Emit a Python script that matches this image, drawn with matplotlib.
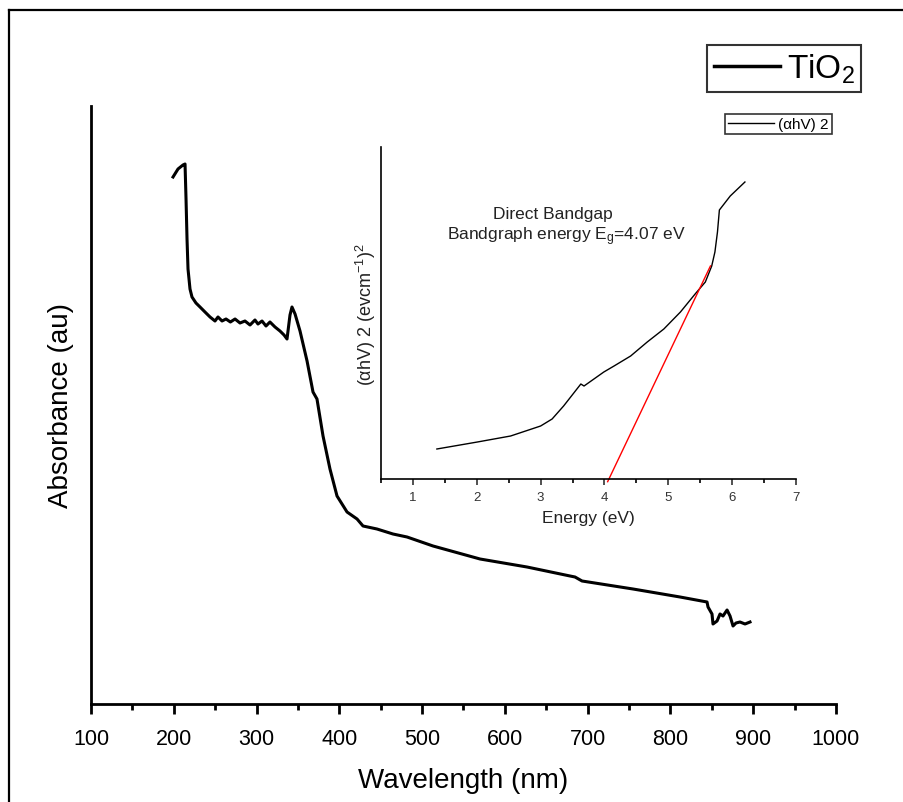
import matplotlib.pyplot as plt
from matplotlib.lines import Line2D
import numpy as np

plt.rcParams['font.family'] = ['Liberation Sans', 'DejaVu Sans']
plt.rcParams['mathtext.fontset'] = 'custom'
plt.rcParams['mathtext.rm'] = 'Liberation Sans'
plt.rcParams['mathtext.it'] = 'Liberation Sans'
plt.rcParams['mathtext.default'] = 'regular'

# main spectrum: wavelength (nm) vs absorbance (arbitrary units)
wavelength = [199.1, 205.1, 211.1, 213.6, 214.8, 216.0, 217.2, 219.6, 222.0, 226.8,
              231.7, 237.7, 243.8, 249.8, 253.4, 258.3, 263.1, 268.4, 274.0, 280.0,
              286.0, 292.1, 298.1, 301.7, 306.6, 311.4, 316.2, 322.3, 328.3, 333.2,
              336.8, 340.4, 342.8, 346.5, 352.5, 361.0, 368.2, 373.0, 380.3, 388.7,
              397.2, 409.3, 421.4, 428.6, 445.5, 464.8, 481.8, 513.2, 570.0, 626.7,
              678.7, 684.7, 693.2, 754.8, 811.6, 844.2, 845.4, 850.2, 851.4, 856.3,
              859.9, 863.5, 868.4, 872.0, 875.6, 879.2, 884.0, 890.1, 896.1]
absorbance = [527, 535, 539, 540, 505, 465, 435, 415, 407, 401,
              397, 392, 387, 383, 387, 383, 385, 382, 385, 381,
              383, 379, 384, 380, 383, 378, 382, 377, 373, 369,
              365, 389, 397, 390, 373, 343, 312, 305, 268, 235,
              208, 192, 185, 178, 175, 170, 167, 158, 145, 137,
              128, 127, 123, 115, 107, 102, 97, 90, 80, 83,
              90, 88, 94, 88, 78, 81, 82, 80, 82]

# inset: Tauc plot
energy = [1.375, 2.01, 2.53, 3.0, 3.18, 3.36, 3.63, 3.68, 3.99, 4.15, 4.41, 4.67,
          4.93, 5.19, 5.42, 5.58, 5.68, 5.73, 5.77, 5.80, 5.97, 6.2]
tauc = [30, 37, 43, 53, 60, 73, 95, 93, 107, 113, 123, 137,
        150, 167, 185, 197, 213, 227, 247, 269, 283, 297]
fit_energy = [4.05, 5.66]
eg = 4.07
fit_slope = 134

W, H = 904, 803
fig = plt.figure(figsize=(W / 100, H / 100), dpi=100)

# frame (top and left edges only)
fig.add_artist(Line2D([9 / W, 1], [1 - 11 / H, 1 - 11 / H], color='black', lw=1.6,
                      transform=fig.transFigure))
fig.add_artist(Line2D([9 / W, 9 / W], [0, 1 - 11 / H], color='black', lw=1.6,
                      transform=fig.transFigure))

ax = fig.add_axes([91 / W, (H - 705) / H, 745 / W, 598 / H])
ax.plot(wavelength, absorbance, color='black', lw=2.2, label='TiO$_2$')
ax.set_xlim(100, 1000)
ax.set_ylim(0, 598)
ax.set_xticks(np.arange(100, 1001, 100))
ax.set_xticks(np.arange(150, 1000, 100), minor=True)
ax.set_yticks([])
for s in ['top', 'right']:
    ax.spines[s].set_visible(False)
for s in ['left', 'bottom']:
    ax.spines[s].set_linewidth(2)
ax.tick_params(axis='x', which='major', direction='out', length=7, width=2,
               labelsize=15.5, pad=10)
ax.tick_params(axis='x', which='minor', direction='out', length=4, width=2)
ax.set_xlabel('Wavelength (nm)', fontsize=20, labelpad=13)
ax.set_ylabel('Absorbance (au)', fontsize=20, labelpad=12)
leg = ax.legend(loc='upper left', bbox_to_anchor=(707 / W, 1 - 46 / H),
                bbox_transform=fig.transFigure, fontsize=24, frameon=True,
                fancybox=False, edgecolor='black', handlelength=2.0,
                borderpad=0.2, handletextpad=0.2, borderaxespad=0)
leg.get_frame().set_linewidth(1.5)
leg.get_lines()[0].set_linewidth(2.5)

ins = fig.add_axes([381 / W, (H - 480) / H, 415 / W, 332 / H])
ins.plot(energy, tauc, color='black', lw=1, label='(αhV) 2')
fit_x = np.array(fit_energy)
ins.plot(fit_x, fit_slope * (fit_x - eg), color='red', lw=1, clip_on=False)
ins.set_xlim(0.5, 7)
ins.set_ylim(0, 332)
ins.set_xticks(np.arange(1, 8))
ins.set_xticks(np.arange(0.5, 7, 1.0), minor=True)
ins.set_yticks([])
for s in ['top', 'right']:
    ins.spines[s].set_visible(False)
for s in ['left', 'bottom']:
    ins.spines[s].set_linewidth(1.2)
ins.tick_params(axis='x', which='major', direction='out', length=4, width=1.2,
                labelsize=9.5, pad=5, colors='#333333')
ins.tick_params(axis='x', which='minor', direction='out', length=3, width=1.2)
ins.set_xlabel('Energy (eV)', fontsize=12.5, color='#222222', labelpad=5)
ins.set_ylabel('(αhV) 2 (evcm$^{-1}$)$^2$', fontsize=13, color='#222222', labelpad=2)
ins.text(3.19, 266, 'Direct Bandgap', fontsize=12.5, color='#222222',
         ha='center', va='center')
ins.text(3.41, 243, 'Bandgraph energy E$_g$=4.07 eV', fontsize=12.5, color='#222222',
         ha='center', va='center')
lg2 = ins.legend(loc='upper left', bbox_to_anchor=(725 / W, 1 - 115 / H),
                 bbox_transform=fig.transFigure, fontsize=11, frameon=True,
                 fancybox=False, edgecolor='black', handlelength=3.0,
                 borderpad=0.2, handletextpad=0.3, borderaxespad=0)
lg2.get_frame().set_linewidth(1.2)

fig.savefig('out.png', dpi=100)
